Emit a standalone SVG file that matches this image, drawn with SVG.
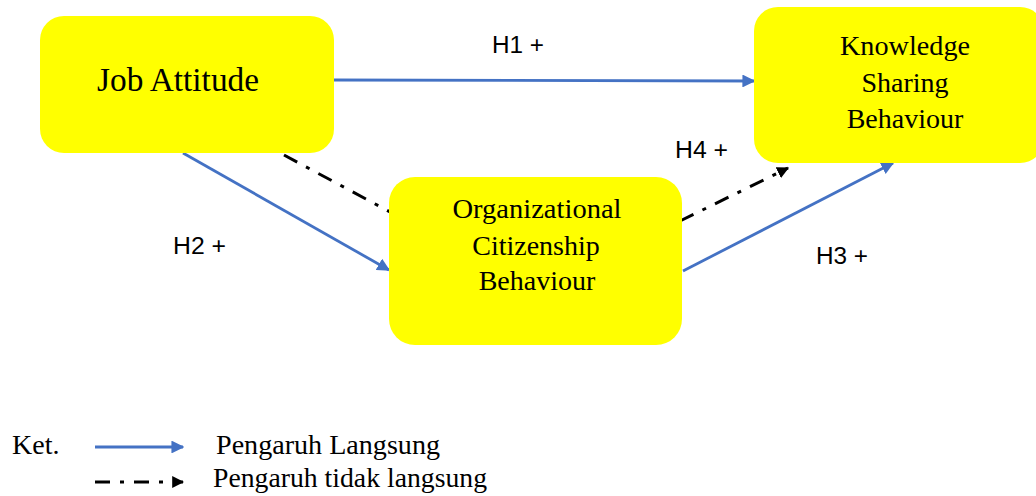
<svg xmlns="http://www.w3.org/2000/svg" width="1036" height="496" viewBox="0 0 1036 496">
  <style>
    .box { fill: #FFFF00; }
    .serif { font-family: "Liberation Serif", "Times New Roman", serif; fill: #000; }
    .node-text { font-size: 28px; text-anchor: middle; }
    .legend-text { font-size: 28px; }
    .sans { font-family: "Liberation Sans", Arial, sans-serif; fill: #000; font-size: 23px; }
    .direct { stroke: #4472C4; stroke-width: 2.8; fill: none; }
    .indirect { stroke: #000; stroke-width: 3; fill: none; stroke-dasharray: 15 10 4 10; }
  </style>
  <defs>
    <marker id="arrowBlue" viewBox="0 0 10 10" refX="9" refY="5" markerWidth="4.6" markerHeight="4.6" orient="auto" markerUnits="strokeWidth">
      <path d="M0,0 L10,5 L0,10 z" fill="#4472C4"/>
    </marker>
    <marker id="arrowBlack" viewBox="0 0 10 10" refX="9" refY="5" markerWidth="4" markerHeight="4" orient="auto" markerUnits="strokeWidth">
      <path d="M0,0 L10,5 L0,10 z" fill="#000"/>
    </marker>
  </defs>

  <!-- connectors -->
  <g id="connectors">
    <line class="direct" x1="334" y1="80" x2="754" y2="81" marker-end="url(#arrowBlue)"/>
    <line class="direct" x1="183" y1="153" x2="389" y2="270" marker-end="url(#arrowBlue)"/>
    <line class="direct" x1="683" y1="271" x2="893" y2="163" marker-end="url(#arrowBlue)"/>
    <line class="indirect" x1="284" y1="155" x2="392" y2="213"/>
    <line class="indirect" x1="680" y1="221" x2="788" y2="168" marker-end="url(#arrowBlack)"/>
    <text class="sans" x="492" y="53" textLength="52" lengthAdjust="spacingAndGlyphs">H1 +</text>
    <text class="sans" x="173" y="254" textLength="53" lengthAdjust="spacingAndGlyphs">H2 +</text>
    <text class="sans" x="816" y="264" textLength="52" lengthAdjust="spacingAndGlyphs">H3 +</text>
    <text class="sans" x="675" y="158" textLength="53" lengthAdjust="spacingAndGlyphs">H4 +</text>
  </g>

  <!-- nodes -->
  <g id="job-attitude">
    <rect class="box" x="40" y="16" width="294" height="137" rx="24"/>
    <text class="serif" x="178" y="91" font-size="33" text-anchor="middle" textLength="162" lengthAdjust="spacingAndGlyphs">Job Attitude</text>
  </g>
  <g id="knowledge-sharing">
    <rect class="box" x="754" y="7" width="290" height="156" rx="24"/>
    <text class="serif node-text" x="905" y="55" textLength="130" lengthAdjust="spacingAndGlyphs">Knowledge</text>
    <text class="serif node-text" x="905" y="92">Sharing</text>
    <text class="serif node-text" x="905" y="128">Behaviour</text>
  </g>
  <g id="ocb">
    <rect class="box" x="389" y="177" width="293" height="168" rx="26"/>
    <text class="serif node-text" x="537" y="218" textLength="169" lengthAdjust="spacingAndGlyphs">Organizational</text>
    <text class="serif node-text" x="536" y="255">Citizenship</text>
    <text class="serif node-text" x="537" y="290">Behaviour</text>
  </g>

  <!-- legend -->
  <g id="legend">
    <text class="serif legend-text" x="12" y="454">Ket.</text>
    <line class="direct" x1="95" y1="447" x2="183" y2="447" marker-end="url(#arrowBlue)"/>
    <text class="serif legend-text" x="216" y="454" textLength="224" lengthAdjust="spacingAndGlyphs">Pengaruh Langsung</text>
    <line class="indirect" x1="95" y1="482" x2="183" y2="482" stroke-dasharray="13 10 3 11" marker-end="url(#arrowBlack)"/>
    <text class="serif legend-text" x="213" y="487" textLength="274" lengthAdjust="spacingAndGlyphs">Pengaruh tidak langsung</text>
  </g>
</svg>
